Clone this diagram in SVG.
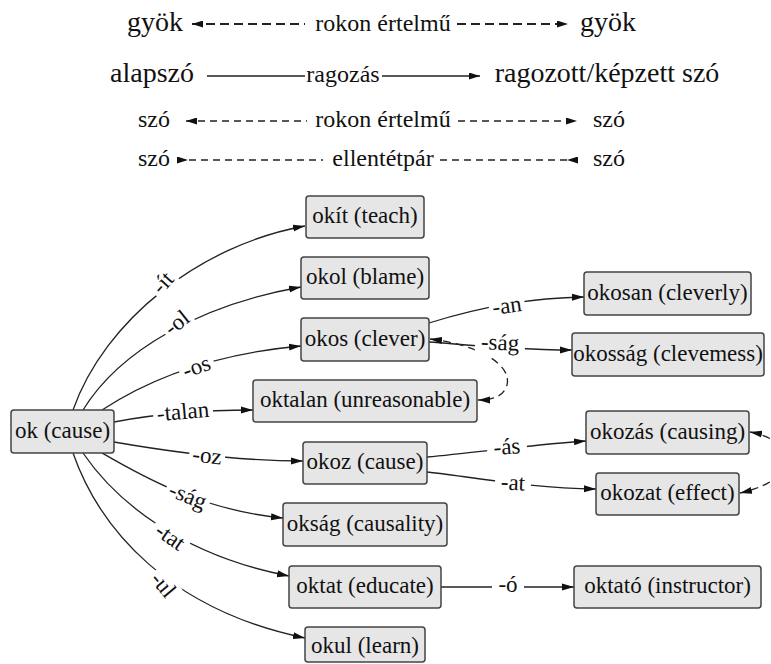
<svg xmlns="http://www.w3.org/2000/svg" width="771" height="664" viewBox="0 0 771 664" font-family="Liberation Serif, serif">
<style>
text{fill:#111;text-anchor:middle}
.big{font-size:28px}
.mid{font-size:24px}
.lab{font-size:23px}
.nd rect{fill:#e6e6e6;stroke:#444;stroke-width:1.5}
.nd text{font-size:23px}
.e{fill:none;stroke:#222;stroke-width:1.3}
.d{fill:none;stroke:#222;stroke-width:1.3;stroke-dasharray:8 5}
.bg{fill:#fff}
</style>
<defs>
<marker id="ah" viewBox="0 0 12 8" refX="12" refY="4" markerWidth="12" markerHeight="8" markerUnits="userSpaceOnUse" orient="auto-start-reverse"><path d="M0,0.5 L12,4 L0,7.5 z" fill="#111"/></marker>
<marker id="ahs" viewBox="0 0 11 7" refX="11" refY="3.5" markerWidth="11" markerHeight="7" markerUnits="userSpaceOnUse" orient="auto-start-reverse"><path d="M0,0 L11,3.5 L0,7 z" fill="#111"/></marker>
<marker id="ahi" viewBox="0 0 11 7" refX="11" refY="3.5" markerWidth="11" markerHeight="7" markerUnits="userSpaceOnUse" orient="auto-start-reverse"><path d="M11,0 L0,3.5 L11,7 z" fill="#111"/></marker>
</defs>
<rect width="771" height="664" fill="#fff"/>

<g id="legend" font-family="Liberation Serif">
<text class="big" x="155" y="31">gyök</text>
<path d="M192,24 L305,24 M457,24 L568,24" style="fill:none;stroke:#222;stroke-width:2.2;stroke-dasharray:9 5" marker-start="url(#ahs)" marker-end="url(#ahs)"/>
<text class="mid" x="383" y="31">rokon értelmű</text>
<text class="big" x="608" y="31">gyök</text>

<text class="big" x="152" y="82">alapszó</text>
<path d="M207,76 L305,76 M382,76 L480,76" class="e" marker-end="url(#ahs)"/>
<text class="mid" x="343" y="82">ragozás</text>
<text class="big" x="607" y="82">ragozott/képzett szó</text>

<text class="mid" x="154" y="127">szó</text>
<path d="M186,121 L307,121 M458,121 L577,121" style="fill:none;stroke:#222;stroke-width:1.3;stroke-dasharray:7 5" marker-start="url(#ahs)" marker-end="url(#ahs)"/>
<text class="mid" x="383" y="127">rokon értelmű</text>
<text class="mid" x="609" y="127">szó</text>

<text class="mid" x="154" y="166">szó</text>
<path d="M177,160 L323,160 M440,160 L578,160" style="fill:none;stroke:#222;stroke-width:1.3;stroke-dasharray:7 5" marker-start="url(#ahi)" marker-end="url(#ahi)"/>
<text class="mid" x="383" y="166">ellentétpár</text>
<text class="mid" x="609" y="166">szó</text>
</g>

<g id="connectors" font-family="Liberation Serif">
<path class="e" d="M73,410 C105,320 200,245 305,226" marker-end="url(#ah)"/>
<path class="e" d="M83,410 C120,350 200,305 301,287" marker-end="url(#ah)"/>
<path class="e" d="M102,410 C140,385 200,355 301,346" marker-end="url(#ah)"/>
<path class="e" d="M114,422 C150,415 200,410 253,410" marker-end="url(#ah)"/>
<path class="e" d="M114,442 C160,450 230,461 303,461" marker-end="url(#ah)"/>
<path class="e" d="M102,453 C140,475 200,510 283,518" marker-end="url(#ah)"/>
<path class="e" d="M83,453 C115,500 180,555 289,576" marker-end="url(#ah)"/>
<path class="e" d="M73,453 C100,530 170,610 305,638" marker-end="url(#ah)"/>
<path class="e" d="M429,323 C470,310 520,298 584,297" marker-end="url(#ah)"/>
<path class="e" d="M429,342 C470,345 520,350 572,350" marker-end="url(#ah)"/>
<path class="d" d="M430,339 C480,345 512,365 507,385 C503,398 490,400 478,400" marker-start="url(#ah)" marker-end="url(#ah)"/>
<path class="e" d="M427,457 C480,452 530,445 586,441" marker-end="url(#ah)"/>
<path class="e" d="M427,472 C480,478 530,488 596,489" marker-end="url(#ah)"/>
<path class="d" d="M750,432 C795,440 805,478 740,493" marker-start="url(#ah)" marker-end="url(#ah)"/>
<path class="e" d="M441,587 L574,587" marker-end="url(#ah)"/>

<g transform="translate(163,283) rotate(-48)"><rect class="bg" x="-14" y="-12" width="28" height="24"/><text class="lab" x="0" y="7">-ít</text></g>
<g transform="translate(177,323) rotate(-38)"><rect class="bg" x="-16" y="-12" width="32" height="24"/><text class="lab" x="0" y="7">-ol</text></g>
<g transform="translate(197,368) rotate(-20)"><rect class="bg" x="-18" y="-10" width="36" height="20"/><text class="lab" x="0" y="6">-os</text></g>
<g transform="translate(183,412) rotate(-5)"><rect class="bg" x="-30" y="-12" width="60" height="24"/><text class="lab" x="0" y="7">-talan</text></g>
<g transform="translate(207,457) rotate(6)"><rect class="bg" x="-18" y="-10" width="36" height="20"/><text class="lab" x="0" y="6">-oz</text></g>
<g transform="translate(187,498) rotate(22)"><rect class="bg" x="-23" y="-13" width="46" height="26"/><text class="lab" x="0" y="5">-ság</text></g>
<g transform="translate(170,537) rotate(35)"><rect class="bg" x="-20" y="-11" width="40" height="22"/><text class="lab" x="0" y="7">-tat</text></g>
<g transform="translate(163,585) rotate(50)"><rect class="bg" x="-16" y="-12" width="32" height="24"/><text class="lab" x="0" y="7">-ul</text></g>
<g transform="translate(507,307) rotate(-8)"><rect class="bg" x="-18" y="-10" width="36" height="20"/><text class="lab" x="0" y="6">-an</text></g>
<g transform="translate(500,345) rotate(2)"><rect class="bg" x="-25" y="-13" width="50" height="26"/><text class="lab" x="0" y="5">-ság</text></g>
<g transform="translate(507,448) rotate(-4)"><rect class="bg" x="-20" y="-12" width="40" height="24"/><text class="lab" x="0" y="6">-ás</text></g>
<g transform="translate(513,483) rotate(3)"><rect class="bg" x="-18" y="-11" width="36" height="22"/><text class="lab" x="0" y="7">-at</text></g>
<g transform="translate(508,585)"><rect class="bg" x="-16" y="-12" width="32" height="24"/><text class="lab" x="0" y="7">-ó</text></g>
</g>

<g id="n-ok" class="nd" font-family="Liberation Serif"><rect x="11" y="410" width="103" height="43" rx="3"/><text x="62.5" y="438">ok (cause)</text></g>
<g id="n-okit" class="nd" font-family="Liberation Serif"><rect x="306" y="196" width="118" height="42" rx="3"/><text x="365" y="223">okít (teach)</text></g>
<g id="n-okol" class="nd" font-family="Liberation Serif"><rect x="301" y="257" width="128" height="42" rx="3"/><text x="365" y="284">okol (blame)</text></g>
<g id="n-okos" class="nd" font-family="Liberation Serif"><rect x="301" y="318" width="128" height="43" rx="3"/><text x="365" y="346">okos (clever)</text></g>
<g id="n-oktalan" class="nd" font-family="Liberation Serif"><rect x="253" y="380" width="224" height="42" rx="3"/><text x="365" y="407">oktalan (unreasonable)</text></g>
<g id="n-okosan" class="nd" font-family="Liberation Serif"><rect x="584" y="272" width="167" height="43" rx="3"/><text x="667.5" y="300">okosan (cleverly)</text></g>
<g id="n-okossag" class="nd" font-family="Liberation Serif"><rect x="572" y="333" width="192" height="43" rx="3"/><text x="668" y="361">okosság (clevemess)</text></g>
<g id="n-okozas" class="nd" font-family="Liberation Serif"><rect x="586" y="411" width="163" height="43" rx="3"/><text x="667.5" y="439">okozás (causing)</text></g>
<g id="n-okoz" class="nd" font-family="Liberation Serif"><rect x="303" y="442" width="124" height="42" rx="3"/><text x="365" y="469">okoz (cause)</text></g>
<g id="n-okozat" class="nd" font-family="Liberation Serif"><rect x="596" y="473" width="143" height="42" rx="3"/><text x="667.5" y="500">okozat (effect)</text></g>
<g id="n-oksag" class="nd" font-family="Liberation Serif"><rect x="283" y="503" width="164" height="43" rx="3"/><text x="365" y="531">okság (causality)</text></g>
<g id="n-oktat" class="nd" font-family="Liberation Serif"><rect x="289" y="566" width="152" height="42" rx="3"/><text x="365" y="593">oktat (educate)</text></g>
<g id="n-oktato" class="nd" font-family="Liberation Serif"><rect x="574" y="566" width="187" height="42" rx="3"/><text x="667.5" y="593">oktató (instructor)</text></g>
<g id="n-okul" class="nd" font-family="Liberation Serif"><rect x="305" y="627" width="120" height="35" rx="3"/><text x="365" y="653">okul (learn)</text></g>
</svg>
